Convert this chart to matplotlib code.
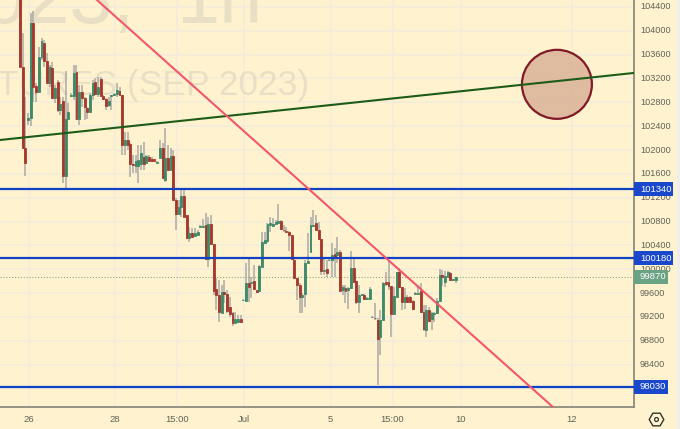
import matplotlib
matplotlib.use("Agg")
import matplotlib.pyplot as plt
from matplotlib.patches import Rectangle, Ellipse

W, H = 680, 429
BG = "#fff3cf"

opens = [104700,103400,102030,102504,102530,104126,103080,102968,103566,103790,103500,103130,103382,102878,103147,102671,102828,101570,102515,102906,
102906,103315,102515,102979,102867,102710,102643,102923,103147,102940,103186,102906,102850,102750,102912,102930,102934,102996,102923,102079,
102168,102095,101760,101732,101732,101765,101888,101777,101877,101849,101844,101790,101860,102040,101497,101871,101665,101900,101162,100921,
101039,101229,100910,100519,100602,100563,100574,100714,100714,100737,100166,100759,100418,99663,99568,99271,99624,99584,99372,99260,
99103,99120,99159,99480,99473,99763,99770,99803,99652,99635,100043,100446,100479,100742,100725,100759,100781,100815,100664,100642,
100630,100574,100155,99847,99736,99540,99585,100099,100295,100731,100781,100658,100502,99970,100004,100150,100155,100250,100239,100294,
99651,99690,99651,99679,100014,99802,99444,99567,99567,99500,99500,99190,99187,99148,98868,99148,99791,99791,99724,99243,
99539,99947,99696,99455,99539,99539,99466,99590,99590,99640,99287,98980,99315,99159,99248,99259,99472,99897,99791,99875,
99942,99813,99813]
closes = [103400,102030,101790,102543,104126,103052,102980,103566,103835,103500,103130,103398,102867,103035,102671,102772,101570,102515,102643,102923,
103298,102515,102979,102867,102727,102632,102923,103119,102934,103052,102906,102850,102738,102822,102923,102940,103007,102923,102079,102168,
102079,101760,101743,101821,101832,101955,101765,101900,101821,101816,101816,101800,102040,101525,101860,101665,101905,101162,100921,101039,
101229,100882,100519,100614,100546,100602,100630,100725,100725,100166,100759,100418,99640,99568,99288,99624,99584,99305,99249,99103,
99159,99165,99109,99490,99763,99708,99780,99663,99618,100054,100457,100491,100753,100770,100759,100798,100809,100670,100653,100630,
100574,100166,99847,99736,99540,99568,100099,100144,100742,100742,100658,100502,99976,99993,99931,100160,100239,100211,100295,99640,
99707,99640,99690,100014,99791,99444,99567,99578,99500,99522,99668,99200,99175,98823,99148,99774,99752,99724,99243,99550,
99947,99696,99455,99528,99455,99455,99326,99600,99600,99276,98991,99315,99136,99259,99259,99472,99897,99863,99886,99947,
99819,99830,99863]
highs = [104800,103960,102895,102615,104293,104338,103119,103734,103874,103846,103622,103426,103482,103091,103175,102895,102895,103326,102783,102951,
103426,103426,103091,103091,102895,102727,102951,103175,103203,103231,103231,102923,102867,102895,102923,102960,103119,103063,102923,102308,
102308,102112,101916,101916,102084,102084,102140,101916,101916,101888,101850,101810,102168,102112,102364,102084,102028,102001,101190,101162,
101329,101329,100910,100714,100686,100686,100658,100735,100837,100938,100882,100910,100418,99847,99819,99736,99819,99652,99540,99288,
99288,99232,99232,99500,100099,100183,99875,100071,99652,100071,100630,100630,100770,100882,100854,100826,101095,100826,100742,100714,
100642,100574,100166,99847,99763,99600,100155,100602,100882,100994,100910,100798,100502,100183,100155,100170,100435,100351,100547,100322,
99735,99735,99707,100311,100210,99802,99735,99590,99578,99530,99696,99210,99427,99175,99315,99791,99958,100154,99724,99707,
99958,100014,99696,99679,99567,99556,99483,99610,99735,99763,99399,99399,99371,99287,99287,99511,99998,99986,99975,99975,
99947,99840,99875]
lows = [103400,102030,101560,102420,102403,102811,102811,102968,103510,103398,103119,103063,102850,102783,102643,102588,101452,101329,102504,102884,
102839,102504,102420,102727,102504,102515,102632,102839,102923,102895,102895,102839,102671,102727,102671,102910,102895,102906,101916,101916,
102000,101553,101609,101620,101441,101665,101665,101777,101793,101793,101800,101780,101860,101525,101469,101653,101665,101162,100658,100910,
100882,100871,100507,100463,100535,100546,100558,100700,100700,100155,100043,100407,99568,99316,99120,99260,99428,99260,99204,99048,
99092,99092,99092,99470,99456,99456,99512,99652,99596,99624,100043,100423,100435,100630,100714,100742,100770,100658,100630,100602,
100312,100155,99847,99484,99271,99260,99372,100099,100295,100714,100647,100491,99903,99903,99875,100140,99875,99875,100099,99640,
99567,99427,99326,99662,99774,99416,99259,99555,99494,99490,99494,99180,99150,98057,98560,99148,99718,99651,98857,99232,
99539,99679,99315,99326,99455,99427,99315,99580,99580,99259,98969,98868,99119,98980,99119,99248,99461,99718,99696,99875,
99807,99800,99774]

grid_ticks = list(range(98000, 104800, 400))
label_ticks = list(range(98400, 104800, 400))
x_tick_pos = [3.2, 35.3, 58.4, 83.3, 115.5, 138.5, 163.8, 205.1]
x_tick_labels = ["26", "28", "15:00", "Jul", "5", "15:00", "10", "12"]
levels = [101340, 100180, 98030]
last_price = 99870
trend_green_x = [-7.43, 228.25]
trend_green_y = [102168, 103293]
trend_red_x = [28.6, 198.1]
trend_red_y = [104517, 97688]
circle_x, circle_y = 199.6, 103102

plt.rcParams["font.family"] = ["Liberation Sans", "DejaVu Sans"]
fig = plt.figure(figsize=(W / 100, H / 100), dpi=100, facecolor=BG)

L, R, T, B = 0, 634, 0, 407
ax = fig.add_axes([L / W, 1 - B / H, (R - L) / W, (B - T) / H], facecolor=BG)
ax.set_xlim(-7.43, 228.25)
ax.set_ylim(97688, 104517)
for s in ("top", "left"):
    ax.spines[s].set_visible(False)
for s in ("right", "bottom"):
    ax.spines[s].set_color("#8c8c7c")
    ax.spines[s].set_linewidth(1.3)
ax.set_xticks(x_tick_pos)
ax.set_xticklabels(x_tick_labels, fontsize=6.8, color="#626258")
ax.tick_params(axis="x", length=0, pad=6)
ax.set_yticks(grid_ticks)
ax.set_yticklabels([])
ax.tick_params(axis="y", length=0)
ax.grid(True, color="#f2ecdc", lw=1.1, zorder=0)
ax.set_axisbelow(True)

wm = "#e9dfc5"
ax.text(42.3, 104517 - 23 * 16.78, "023,", fontsize=56, color=wm, ha="right", va="baseline", zorder=1)
ax.text(58.0, 104517 - 23 * 16.78, "1h", fontsize=56, color=wm, ha="left", va="baseline", zorder=1)
ax.text(107.4, 104517 - 95 * 16.78, "TURES (SEP 2023)", fontsize=25.5, color=wm, ha="right", va="baseline", zorder=1)

RED, GREEN, WICK = "#a5382c", "#3c8a68", "#aeaea6"
for i, (o, c, h, l) in enumerate(zip(opens, closes, highs, lows)):
    col = GREEN if c >= o else RED
    ax.vlines(i, l, h, color=WICK, lw=1.15, zorder=2)
    ax.bar(i, abs(c - o), bottom=min(o, c), width=0.72, color=col, edgecolor=col, lw=0.6, zorder=3)

ax.axhline(last_price, color="#8fa88c", lw=0.8, ls=(0, (1, 1.6)), zorder=2)
ax.axhline(levels[2] + 15, color="#8a8a80", lw=0.8, ls=(0, (1, 1.2)), zorder=2)
for lv in levels:
    ax.axhline(lv, color="#1141c4", lw=1.6, zorder=4)

ax.add_patch(Ellipse((circle_x, circle_y), 26, 1158, facecolor=(0.87, 0.72, 0.62, 0.95), edgecolor="#801a28",
                     lw=1.6, zorder=4))
ax.plot(trend_green_x, trend_green_y, color="#1c5c16", lw=1.5, zorder=5)
ax.plot(trend_red_x, trend_red_y, color="#f4566c", lw=1.5, zorder=5)

# price scale
axr = fig.add_axes([R / W, 1 - B / H, (W - R) / W, (B - T) / H], facecolor="none")
axr.set_xlim(0, W - R)
axr.set_ylim(97688, 104517)
axr.axis("off")
for v in label_ticks:
    axr.text(6, v, str(v), fontsize=6.6, color="#626258", ha="left", va="center", zorder=2, clip_on=False)
box_w = {101340: 38.5, 100180: 38.5, 98030: 33.5}
pxh = 14 * 16.78
for lv in levels:
    axr.add_patch(Rectangle((0, lv - pxh / 2), box_w[lv], pxh, facecolor="#1a48cc", edgecolor="none", zorder=3))
    axr.text(6, lv, str(lv), fontsize=6.8, color="white", ha="left", va="center", zorder=4)
axr.add_patch(Rectangle((0, last_price - pxh / 2), 33.5, pxh, facecolor="#6aa284", edgecolor="none", zorder=3))
axr.text(6, last_price, str(last_price), fontsize=6.8, color="white", ha="left", va="center", zorder=4)

# outer strip and settings icon
fig.add_artist(Rectangle((677 / W, 0), 3 / W, 1, transform=fig.transFigure, facecolor="#eeeeee", edgecolor="none"))
fig.add_artist(plt.Line2D([656 / W], [1 - 419 / H], marker="H", ms=10.5, mfc="none", mec="#33332e", mew=1.0, transform=fig.transFigure))
fig.add_artist(plt.Line2D([656 / W], [1 - 419 / H], marker="o", ms=2.8, mfc="none", mec="#33332e", mew=0.9, transform=fig.transFigure))

fig.savefig("out.png", dpi=100, facecolor=BG)
